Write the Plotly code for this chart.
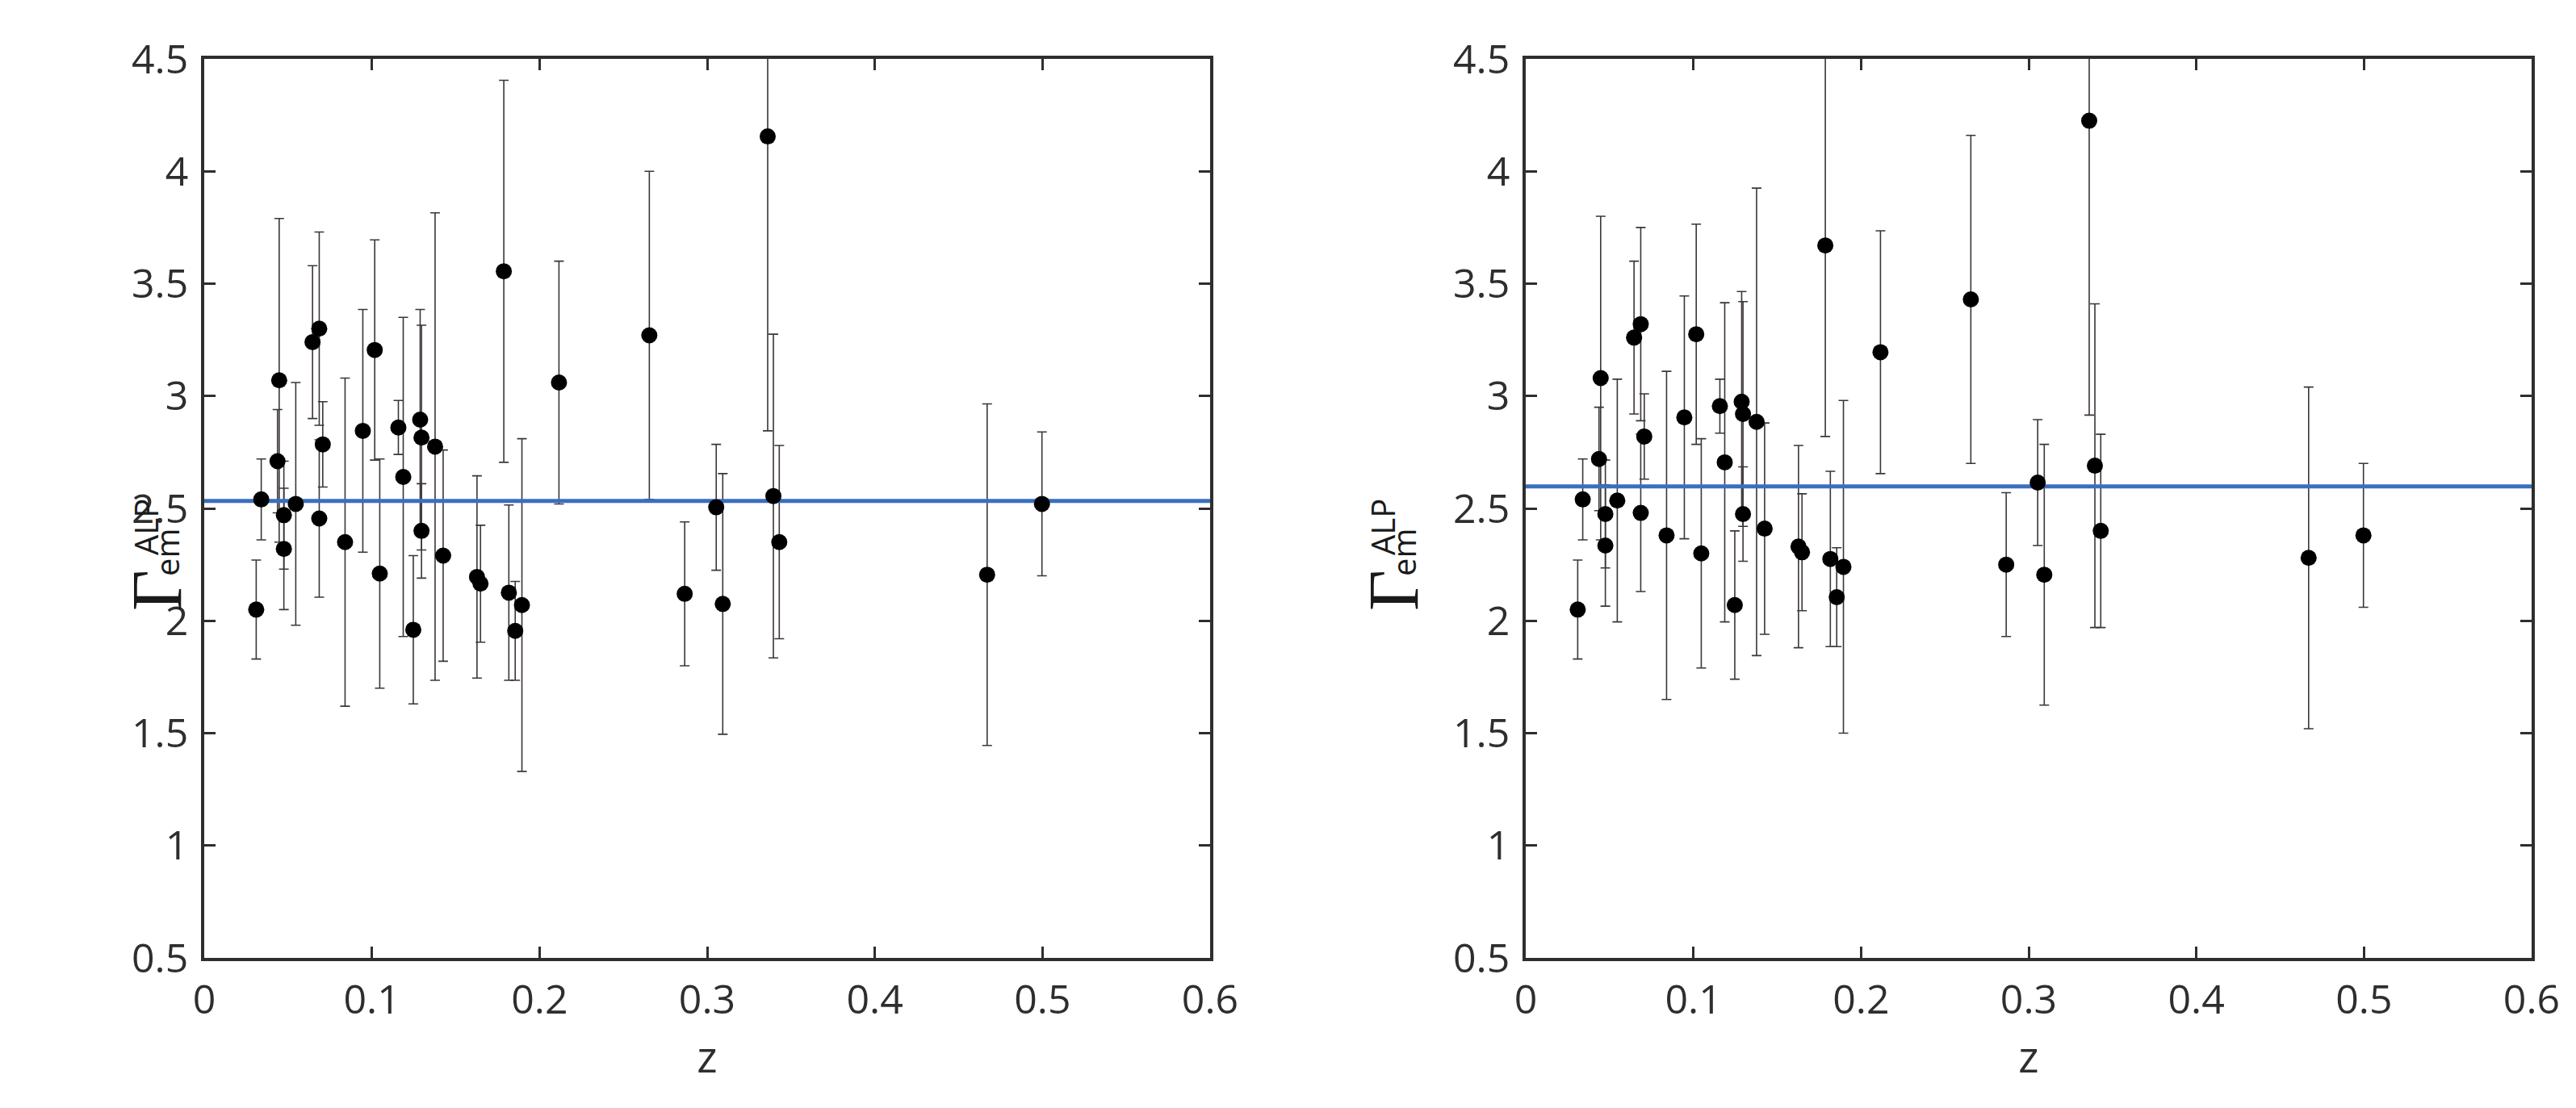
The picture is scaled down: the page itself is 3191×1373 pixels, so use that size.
import plotly.graph_objects as go

# shared redshifts
z = [0.031, 0.034, 0.0447, 0.0437, 0.0475, 0.0475, 0.0546, 0.0646, 0.0686, 0.0707,
     0.0686, 0.084, 0.0946, 0.1017, 0.1047, 0.1158, 0.1187, 0.1247, 0.1288, 0.1296,
     0.1296, 0.1377, 0.1425, 0.1627, 0.1648, 0.1787, 0.1817, 0.1855, 0.1895, 0.2116,
     0.2655, 0.2866, 0.3054, 0.3093, 0.3361, 0.3395, 0.343, 0.467, 0.4997]

gamma_left = [2.05, 2.54, 3.07, 2.71, 2.47, 2.32, 2.52, 3.24, 3.30, 2.785,
              2.455, 2.35, 2.845, 3.205, 2.21, 2.86, 2.64, 1.96, 2.895, 2.815,
              2.40, 2.775, 2.29, 2.195, 2.165, 3.555, 2.125, 1.955, 2.07, 3.06,
              3.27, 2.12, 2.505, 2.075, 4.155, 2.555, 2.35, 2.205, 2.52]

gamma_right = [2.05, 2.54, 3.08, 2.72, 2.475, 2.335, 2.535, 3.26, 3.32, 2.82,
               2.48, 2.38, 2.905, 3.275, 2.30, 2.955, 2.705, 2.07, 2.975, 2.92,
               2.475, 2.885, 2.41, 2.33, 2.305, 3.67, 2.275, 2.105, 2.24, 3.195,
               3.43, 2.25, 2.615, 2.205, 4.225, 2.69, 2.40, 2.28, 2.38]

err = [0.22, 0.18, 0.72, 0.23, 0.24, 0.27, 0.54, 0.34, 0.43, 0.19,
       0.35, 0.73, 0.54, 0.49, 0.51, 0.12, 0.71, 0.33, 0.49, 0.50,
       0.21, 1.04, 0.47, 0.45, 0.26, 0.85, 0.39, 0.22, 0.74, 0.54,
       0.73, 0.32, 0.28, 0.58, 1.31, 0.72, 0.43, 0.76, 0.32]

mean_left = 2.533
mean_right = 2.598

x_range = [0, 0.6]
x_ticks = [0, 0.1, 0.2, 0.3, 0.4, 0.5, 0.6]
x_ticktext = ["0", "0.1", "0.2", "0.3", "0.4", "0.5", "0.6"]
y_ticks = [0.5, 1, 1.5, 2, 2.5, 3, 3.5, 4, 4.5]
y_ticktext = ["0.5", "1", "1.5", "2", "2.5", "3", "3.5", "4", "4.5"]

W, H = 3191, 1373
FONT = "Open Sans"
AX_COL = "#2e2e2e"
BAR_COL = "#3c3636"
LINE_COL = "#3a6ec0"

fig = go.Figure()

panels = [(gamma_left, mean_left, "x", "y"), (gamma_right, mean_right, "x2", "y2")]
for g, m, xa, ya in panels:
    fig.add_trace(go.Scatter(
        x=z, y=g, mode="markers", xaxis=xa, yaxis=ya,
        marker=dict(size=1, color="rgba(0,0,0,0)"),
        error_y=dict(type="data", array=err, symmetric=True, color=BAR_COL,
                     thickness=1.6, width=6),
        showlegend=False, hoverinfo="skip"))
    fig.add_trace(go.Scatter(
        x=x_range, y=[m, m], mode="lines", xaxis=xa, yaxis=ya,
        line=dict(color=LINE_COL, width=5), showlegend=False))
    fig.add_trace(go.Scatter(
        x=z, y=g, mode="markers", xaxis=xa, yaxis=ya,
        marker=dict(size=20, color="black", line=dict(width=0)),
        showlegend=False))

ydom = [1 - 1179 / H, 1 - 65 / H]
xdom1 = [245 / W, 1491 / W]
xdom2 = [1882 / W, 3128 / W]

axis_common = dict(showline=True, linecolor=AX_COL, linewidth=3.5, mirror="ticks",
                   ticks="inside", ticklen=14, tickwidth=3, tickcolor=AX_COL,
                   showgrid=False, zeroline=False, automargin=False,
                   tickfont=dict(family=FONT, size=50, color=AX_COL))

title_font = dict(family=FONT, size=54, color=AX_COL)

fig.update_layout(
    width=W, height=H, margin=dict(l=0, r=0, t=0, b=0, autoexpand=False),
    paper_bgcolor="white", plot_bgcolor="white",
    xaxis=dict(domain=xdom1, range=x_range, tickvals=x_ticks, ticktext=x_ticktext,
               anchor="y", ticklabelstandoff=5,
               title=dict(text="z", font=title_font, standoff=18),
               **axis_common),
    yaxis=dict(domain=ydom, range=[0.5, 4.5], tickvals=y_ticks, ticktext=y_ticktext,
               anchor="x", ticklabelstandoff=6, **axis_common),
    xaxis2=dict(domain=xdom2, range=x_range, tickvals=x_ticks, ticktext=x_ticktext,
                anchor="y2", ticklabelstandoff=5,
                title=dict(text="z", font=title_font, standoff=18),
                **axis_common),
    yaxis2=dict(domain=ydom, range=[0.5, 4.5], tickvals=y_ticks, ticktext=y_ticktext,
                anchor="x2", ticklabelstandoff=6, **axis_common),
)

# y-axis labels: Gamma with stacked sub/superscript, rotated
for gx in [186, 1718]:
    fig.add_annotation(text="Γ", x=gx / W, y=1 - 724 / H, xref="paper", yref="paper",
                       showarrow=False, textangle=-90,
                       font=dict(family="Liberation Serif", size=88, color="#1a1a1a"),
                       xanchor="center", yanchor="middle")
    fig.add_annotation(text="em", x=(gx + 12) / W, y=1 - 676 / H, xref="paper", yref="paper",
                       showarrow=False, textangle=-90,
                       font=dict(family=FONT, size=40, color="#1a1a1a"),
                       xanchor="center", yanchor="middle")
    fig.add_annotation(text="ALP", x=(gx - 14) / W, y=1 - 645 / H, xref="paper", yref="paper",
                       showarrow=False, textangle=-90,
                       font=dict(family=FONT, size=40, color="#1a1a1a"),
                       xanchor="center", yanchor="middle")

fig.write_html("out.html")
